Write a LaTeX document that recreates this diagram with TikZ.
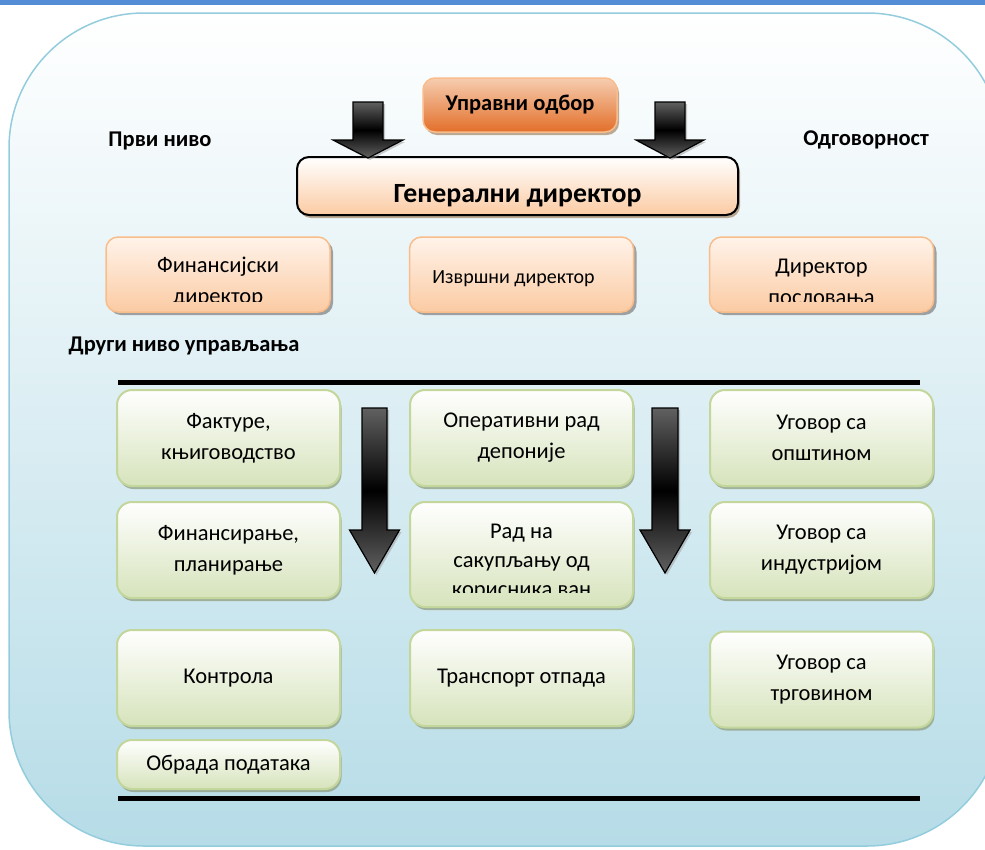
\documentclass[tikz,border=0pt]{standalone}
\usepackage{fontspec}
\setmainfont{Carlito}
\usetikzlibrary{shapes,calc,positioning,shadows}
\definecolor{mblue}{HTML}{538DD5}
\definecolor{mframe}{HTML}{93CDDD}
\definecolor{msky}{HTML}{B6DCE7}
\definecolor{mpeachtop}{HTML}{FFF3EA}
\definecolor{mpeach}{HTML}{FBCBA3}
\definecolor{mpeachline}{HTML}{F9BD8C}
\definecolor{morangetop}{HTML}{F6CDB0}
\definecolor{morange}{HTML}{E36F2A}
\definecolor{mgreen}{HTML}{D6E3BB}
\definecolor{mgreenline}{HTML}{C3D69B}
\definecolor{mgshadow}{HTML}{8C9A78}

\tikzstyle{l2}=[line width=1.5pt]
\tikzstyle{head}=[font=\bfseries\fontsize{22.5}{26}\selectfont, inner sep=0pt]
\tikzstyle{txt}=[font=\fontsize{22.5}{31}\selectfont, align=center, inner sep=0pt]
\tikzstyle{box}=[rectangle, rounded corners=12pt, l2, txt]
\tikzstyle{peach}=[box, minimum width=224pt, minimum height=75pt, draw=mpeachline, top color=mpeachtop, bottom color=mpeach,
  drop shadow={shadow xshift=3pt, shadow yshift=-3pt, fill=black!45, opacity=.8}]
\tikzstyle{green}=[box, rounded corners=15pt, minimum width=223pt, minimum height=96pt, draw=mgreenline, line width=2pt,
  top color=white, bottom color=mgreen, drop shadow={shadow xshift=1.5pt, shadow yshift=-3pt, fill=mgshadow, opacity=.7}]
\tikzstyle{blk}=[draw=black, line width=1.2pt, top color=black!62, bottom color=black!62, middle color=black,
  drop shadow={shadow xshift=2pt, shadow yshift=-2pt, fill=black!40}]

% block arrow pointing down: x, top, neck, tip, half shaft, half head
\newcommand{\blkarrow}[6]{%
  \path[blk] (#1-#5,#2) -- (#1+#5,#2) -- (#1+#5,#3) -- (#1+#6,#3) -- (#1,#4) -- (#1-#6,#3) -- (#1-#5,#3) -- cycle;}

\begin{document}
\begin{tikzpicture}[x=1pt, y=-1pt, node distance=1cm, on grid]

    \useasboundingbox (0,0) rectangle (985,849);
    \fill[mblue] (0,0) rectangle (985,5);
    \path[draw=mframe, line width=1.5pt, top color=white, bottom color=msky, middle color=msky!50!white,
      rounded corners=135pt] (9,13) rectangle (1002,846);

    \node[head] (prvi) at (160,141) {Први ниво};
    \node[head] (odg) at (866,140) {Одговорност};
    \node[head] (drugi) at (184,346) {Други ниво управљања};

    % first level
    \node[box, draw=mpeachline, top color=morangetop, bottom color=morange, minimum width=194pt, minimum height=54pt,
      font=\bfseries\fontsize{22.5}{26}\selectfont,
      drop shadow={shadow xshift=2pt, shadow yshift=-3pt, fill=brown!70!black, opacity=.5}] (uo) at (520,105) {Управни одбор};
    \node[box, draw=black, line width=2pt, top color=white, bottom color=mpeach, minimum width=441pt, minimum height=58pt,
      font=\bfseries\fontsize{27.8}{32}\selectfont, text height=38pt, text depth=6pt,
      drop shadow={shadow xshift=2pt, shadow yshift=-3pt, fill=brown!70!black, opacity=.5}] (gd) at (517.5,186) {Генерални директор};
    \blkarrow{368}{102}{140}{158}{15}{35}
    \blkarrow{670}{102}{140}{158}{15}{34}

    \node[peach] (fd) at (218,274.5) {};
    \node[peach, font=\fontsize{20}{24}\selectfont, text height=22pt] (id) [right=303.5pt of fd] {Извршни директор\hspace*{16pt}};
    \node[peach] (dp) [right=300pt of id] {};
    \begin{scope}
        \clip (fd.north west) rectangle ([yshift=11pt]fd.south east);
        \node[txt] (fdt) at ([yshift=-7.5pt]fd.center) {Финансијски\\директор};
    \end{scope}
    \begin{scope}
        \clip (dp.north west) rectangle ([yshift=11pt]dp.south east);
        \node[txt] (dpt) at ([yshift=-7.5pt]dp.center) {Директор\\пословања};
    \end{scope}

    % second level
    \draw[line width=5pt] (118,382) -- (920,382);
    \draw[line width=5pt] (118,798) -- (920,798);

    \node[green] (fak) at (228.5,438) {Фактуре,\\књиговодство};
    \node[green] (fnp) [below=112pt of fak] {Финансирање,\\планирање};
    \node[green] (kon) [below=240pt of fak] {Контрола};
    \node[green, minimum height=49pt] (obr) [below=326.5pt of fak] {Обрада података};

    \node[green] (opr) [right=293pt of fak] {Оперативни рад\\депоније};
    \node[green, minimum height=105pt] (sak) [below=116.5pt of opr] {};
    \node[green] (tra) [below=240pt of opr] {Транспорт отпада};
    \begin{scope}
        \clip (sak.north west) rectangle ([yshift=16pt]sak.south east);
        \node[txt, font=\fontsize{22.5}{29}\selectfont] (sakt) at ([yshift=-8pt]sak.center) {Рад на\\сакупљању од\\корисника ван};
    \end{scope}

    \node[green] (ops) [right=300pt of opr] {Уговор са\\општином};
    \node[green] (ind) [below=112pt of ops] {Уговор са\\индустријом};
    \node[green] (trg) [below=241.5pt of ops] {Уговор са\\трговином};

    \blkarrow{374.5}{408}{530}{573}{12.5}{25}
    \blkarrow{665}{408}{530}{573}{13}{25}

\end{tikzpicture}
\end{document}
